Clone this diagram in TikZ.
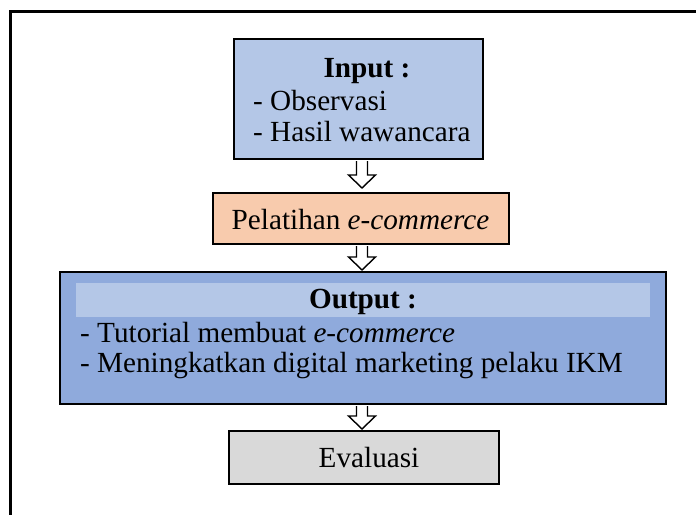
\documentclass[tikz,border=0pt]{standalone}
\usepackage{fontspec}
\setmainfont{Liberation Serif}
\usetikzlibrary{calc}
\definecolor{inblue}{HTML}{B4C7E7}
\definecolor{outblue}{HTML}{8FAADC}
\definecolor{peach}{HTML}{F8CBAD}
\definecolor{lgray}{HTML}{D9D9D9}
\newcommand{\harr}[3]{%
  \draw[harrow] let \p1=(#1.south -| ax), \p2=(#2.north -| ax) in
    (\x1-5.5pt,\y1-1pt) -- (\x1-5.5pt,\y2+#3+13pt) -- (\x1-13.5pt,\y2+#3+13pt)
    -- (\x2,\y2+#3) -- (\x1+13.5pt,\y2+#3+13pt) -- (\x1+5.5pt,\y2+#3+13pt)
    -- (\x1+5.5pt,\y1-1pt);}
\begin{document}
\begin{tikzpicture}[x=1pt,y=-1pt,
  box/.style={draw=black,line width=2.2pt,inner sep=0,anchor=north west},
  txt/.style={inner sep=0,font=\fontsize{29.2}{34}\selectfont},
  btxt/.style={txt,font=\fontsize{29.2}{34}\selectfont\bfseries},
  harrow/.style={draw=black,line width=1.4pt,fill=white,line join=miter}]
\useasboundingbox (0,0) rectangle (696,514);
\clip (0,0) rectangle (696,514);
\draw[line width=3pt] (10.5,11.5) rectangle (730,540);
\coordinate (ax) at (362,0);
% boxes
\node[box,fill=inblue,minimum width=249,minimum height=120] (in) at (233,38) {};
\node[box,fill=peach,minimum width=296,minimum height=51] (pel) at (212,192) {};
\node[box,fill=outblue,minimum width=606,minimum height=132] (out) at (59,271) {};
\node[box,fill=lgray,minimum width=270,minimum height=53] (ev) at (228,430) {};
\node[fill=inblue,inner sep=0,anchor=north west,minimum width=574,minimum height=34] (band) at (76,283) {};
% texts
\node[btxt,anchor=base] (inT) at (367,77) {Input :};
\node[txt,anchor=base west] (in1) at (253,110) {- Observasi};
\node[txt,anchor=base west] (in2) at (253,141) {- Hasil wawancara};
\node[txt,anchor=base] (pelT) at (360.5,229) {Pelatihan \textit{e-commerce}};
\node[btxt,anchor=base] (outT) at (363,308) {Output :};
\node[txt,anchor=base west] (o1) at (80,342) {- Tutorial membuat \textit{e-commerce}};
\node[txt,anchor=base west] (o2) at (80,372) {- Meningkatkan digital marketing pelaku IKM};
\node[txt,anchor=base] (evT) at (369,467) {Evaluasi};
% arrows
\harr{in}{pel}{4pt}
\harr{pel}{out}{1pt}
\harr{out}{ev}{1pt}
\end{tikzpicture}
\end{document}
